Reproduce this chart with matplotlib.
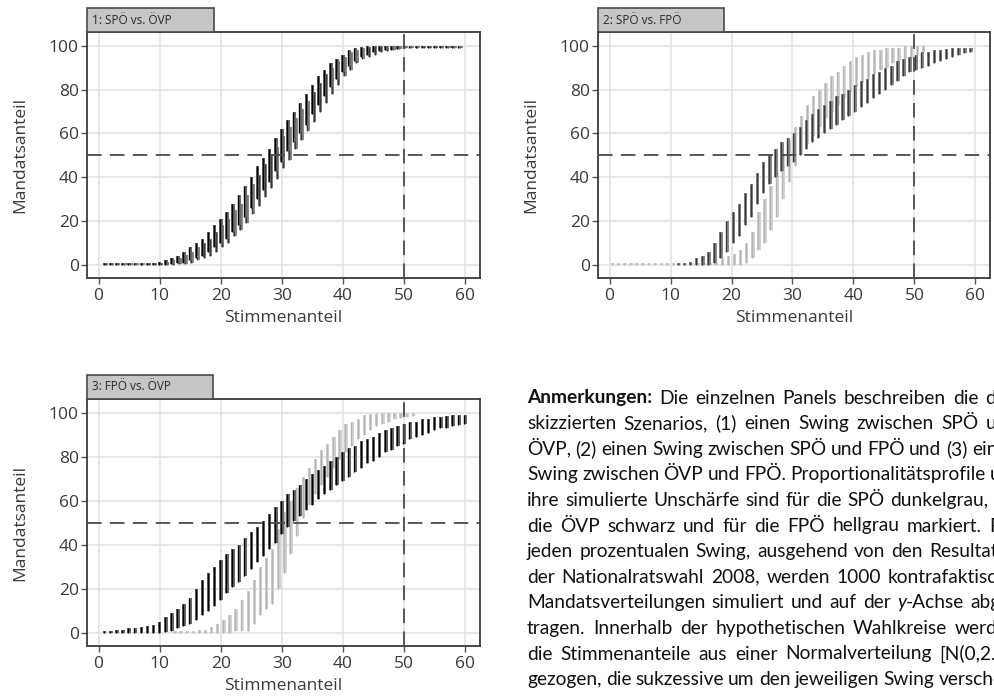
import matplotlib
matplotlib.use("Agg")
import matplotlib.pyplot as plt
import numpy as np
from matplotlib.patches import Rectangle

plt.rcParams['font.family'] = ['Open Sans', 'DejaVu Sans']
plt.rcParams['lines.scale_dashes'] = False

# ---- data ----
# panel 1: SPÖ vs. ÖVP
p1_oevp_x = list(range(1, 60))
p1_oevp_lo = [0, 0, 0, 0, 0, 0, 0, 0, 0, 0,
              0, 0.5, 1, 1, 2, 3, 4, 6, 8, 10,
              12, 15, 18, 22, 26, 30, 34, 38, 43, 47,
              52, 56, 60, 64, 69, 73, 77, 81, 85, 88,
              91, 93, 95, 96, 97, 97.5, 98, 98, 98.5, 99,
              99, 99, 99, 99, 99, 99, 99, 99, 99]
p1_oevp_hi = [0.3, 0.3, 0.4, 0.5, 0.6, 0.7, 0.8, 0.9, 1, 1.5,
              2, 3, 4, 6, 8, 10, 12, 15, 18, 21,
              24, 28, 32, 36, 40, 45, 49, 53, 58, 62,
              66, 70, 74, 78, 82, 86, 89, 92, 94, 96,
              98, 99, 99.5, 100, 100, 100, 100, 100, 100, 100,
              100, 100, 100, 100, 100, 100, 100, 100, 100]
p1_spoe_x = list(np.arange(1.3, 60, 1.0))
p1_spoe_lo = [0, 0, 0, 0, 0, 0, 0, 0, 0, 0,
              0, 0, 0.5, 0.5, 1, 2, 3, 4, 6, 8,
              10, 13, 16, 19, 23, 27, 31, 35, 39, 44,
              48, 53, 57, 61, 65, 70, 74, 78, 82, 86,
              89, 92, 94, 95, 96, 97, 97.5, 98, 98.5, 99,
              99, 99, 99, 99, 99, 99, 99, 99, 99]
p1_spoe_hi = [0.2, 0.2, 0.3, 0.3, 0.4, 0.5, 0.6, 0.7, 0.8, 1,
              1.5, 2, 3, 4.5, 6, 8, 10, 12, 15, 18,
              21, 25, 28, 32, 37, 41, 46, 50, 54, 59,
              63, 67, 71, 75, 79, 83, 87, 90, 93, 95,
              97, 98, 99, 99.5, 100, 100, 100, 100, 100, 100,
              100, 100, 100, 100, 100, 100, 100, 100, 100]

# panel 2: SPÖ vs. FPÖ
p2_spoe_x = list(np.arange(11.3, 60, 1.0))
p2_spoe_lo = [0, 0, 0, 0, 0, 0, 1, 3, 6,
              10, 13, 18, 22, 28, 33, 37, 40, 43, 45,
              47, 50, 53, 56, 58, 60, 62, 64, 66, 68,
              70, 72, 74, 76, 78, 80, 82, 84, 86, 88,
              89, 90, 91, 92, 93, 94, 95, 96, 96.5, 97]
p2_spoe_hi = [0.5, 1, 1.5, 3, 4, 6, 10, 15, 20,
              24, 28, 33, 37, 42, 47, 50, 53, 56, 58,
              60, 63, 66, 69, 71, 73, 75, 77, 78, 80,
              82, 84, 85, 87, 88, 90, 91, 93, 94, 95,
              96, 97, 97, 98, 98, 98.5, 99, 99, 99, 99]
p2_fpoe_x = list(np.arange(0.5, 52, 1.0))
p2_fpoe_lo = [0, 0, 0, 0, 0, 0, 0, 0, 0, 0,
              0, 0, 0, 0, 0, 0, 0, 0, 0, 0,
              0, 0, 1, 3, 7, 10, 16, 22, 30, 38,
              45, 50, 55, 59, 63, 67, 70, 73, 76, 79,
              81, 83, 85, 87, 89, 90, 92, 93, 94, 95,
              96, 97]
p2_fpoe_hi = [0.2, 0.2, 0.2, 0.2, 0.2, 0.2, 0.2, 0.2, 0.2, 0.2,
              0.2, 0.2, 0.2, 0.2, 0.2, 0.2, 0.2, 1, 3, 4,
              5, 7, 10, 15, 24, 30, 36, 42, 50, 57,
              63, 68, 73, 77, 80, 83, 86, 88, 91, 93,
              95, 96, 97, 98, 98, 99, 99, 99, 100, 100,
              100, 100]

# panel 3: FPÖ vs. ÖVP
p3_oevp_x = list(range(1, 61))
p3_oevp_lo = [0, 0, 0, 0, 0, 0, 0, 0, 0, 0,
              0.5, 1, 2, 3, 4, 6, 8, 10, 12, 15,
              18, 21, 23, 26, 29, 32, 35, 38, 41, 45,
              48, 51, 53, 56, 58, 61, 63, 65, 67, 69,
              71, 73, 75, 77, 78, 80, 82, 83, 85, 86,
              88, 89, 90, 91, 92, 93, 93, 94, 94.5, 95]
p3_oevp_hi = [1, 1, 1.5, 1.5, 2, 2, 2.5, 3, 3.5, 5,
              7, 9, 11, 13, 16, 20, 24, 27, 30, 33,
              36, 38, 40, 43, 46, 48, 51, 54, 57, 60,
              63, 65, 67, 70, 72, 74, 76, 78, 80, 82,
              84, 85, 87, 88, 89, 91, 92, 93, 94, 95,
              96, 96, 97, 97, 98, 98, 98.5, 99, 99, 99]
p3_fpoe_x = list(np.arange(12.5, 52, 1.0))
p3_fpoe_lo = [0, 0, 0, 0, 0, 0, 0, 0, 0, 0,
              1, 1, 1, 4, 8, 11, 13, 20, 27, 36,
              44, 52, 58, 63, 67, 71, 75, 79, 82, 85,
              88, 90, 92, 94, 95, 96, 97, 97.5, 98, 98.5]
p3_fpoe_hi = [0.5, 0.6, 0.8, 1, 1.2, 1.5, 2.5, 4, 6, 8,
              11, 15, 19, 24, 30, 34, 38, 47, 55, 60,
              66, 71, 75, 79, 83, 86, 89, 92, 95, 96,
              97, 99, 99.5, 100, 100, 100, 100, 100, 100, 100]

panel_titles = ["1: SPÖ vs. ÖVP", "2: SPÖ vs. FPÖ", "3: FPÖ vs. ÖVP"]

# the note is justified and runs past the right edge, as in the original
notes = [
    "Anmerkungen: Die einzelnen Panels beschreiben die drei",
    "skizzierten Szenarios, (1) einen Swing zwischen SPÖ und",
    "ÖVP, (2) einen Swing zwischen SPÖ und FPÖ und (3) einen",
    "Swing zwischen ÖVP und FPÖ. Proportionalitätsprofile und",
    "ihre simulierte Unschärfe sind für die SPÖ dunkelgrau, für",
    "die ÖVP schwarz und für die FPÖ hellgrau markiert. Für",
    "jeden prozentualen Swing, ausgehend von den Resultaten",
    "der Nationalratswahl 2008, werden 1000 kontrafaktische",
    "Mandatsverteilungen simuliert und auf der y-Achse abge-",
    "tragen. Innerhalb der hypothetischen Wahlkreise werden",
    "die Stimmenanteile aus einer Normalverteilung [N(0,2.5)]",
    "gezogen, die sukzessive um den jeweiligen Swing verschoben",
]

# colours per party
SPOE = ('#8a8a8a', '#3a3a3a')
OEVP = ('#6a6a6a', '#000000')
FPOE = ('#d2d2d2', '#b4b4b4')

W, H = 994, 696
fig = plt.figure(figsize=(W / 100, H / 100), dpi=100)


def px_axes(l, t, r, b):
    return fig.add_axes([l / W, 1 - b / H, (r - l) / W, (b - t) / H])


def ranges(ax, x, lo, hi, colors, w=0.55):
    x = np.asarray(x, float)
    lo = np.asarray(lo, float)
    hi = np.asarray(hi, float)
    h = np.maximum(hi - lo, 0.8)
    ax.bar(x, h, bottom=lo, width=w, color=colors[0], linewidth=0, zorder=3)
    ax.vlines(x - w * 0.25, lo, lo + h, colors=colors[1], linewidth=1.0, zorder=3)


def setup(ax, title, strip_px):
    ax.set_xlim(-1.9, 62.4)
    ax.set_ylim(-6, 106.3)
    ax.set_xticks(range(0, 61, 10))
    ax.set_yticks(range(0, 101, 20))
    ax.grid(True, color='#e3e3e3', lw=1.2)
    ax.set_axisbelow(True)
    for s in ax.spines.values():
        s.set_color('#3a3a3a')
        s.set_linewidth(1.3)
    ax.tick_params(direction='out', length=4, width=1, color='#555555',
                   labelsize=12.5, labelcolor='#3a3a3a')
    ax.tick_params(axis='y', pad=2)
    ax.tick_params(axis='x', pad=3)
    ax.axhline(50, color='#4a4a4a', lw=1.3, dashes=(10.5, 6), zorder=4)
    ax.axvline(50, color='#4a4a4a', lw=1.3, dashes=(10.5, 6), zorder=4)
    ax.set_xlabel('Stimmenanteil', fontsize=12.5, color='#3a3a3a')
    ax.set_ylabel('Mandatsanteil', fontsize=12.5, color='#3a3a3a')
    ax.xaxis.set_label_coords(0.5, -0.13)
    ax.yaxis.set_label_coords(-0.15, 0.5)
    bw = ax.get_position().width * W
    bh = ax.get_position().height * H
    ax.add_patch(Rectangle((0, 1), strip_px / bw, 24 / bh, transform=ax.transAxes,
                           facecolor='#c6c6c6', edgecolor='#4a4a4a', lw=1.2,
                           clip_on=False, zorder=5))
    ax.text(5 / bw, 1 + 12 / bh, title, transform=ax.transAxes, fontsize=8.5,
            color='#2a2a2a', va='center', ha='left', zorder=6)


ax1 = px_axes(87, 32, 480, 278)
ranges(ax1, p1_spoe_x, p1_spoe_lo, p1_spoe_hi, SPOE)
ranges(ax1, p1_oevp_x, p1_oevp_lo, p1_oevp_hi, OEVP)
setup(ax1, panel_titles[0], 127)

ax2 = px_axes(598, 32, 990, 278)
ranges(ax2, p2_fpoe_x, p2_fpoe_lo, p2_fpoe_hi, FPOE)
ranges(ax2, p2_spoe_x, p2_spoe_lo, p2_spoe_hi, SPOE)
setup(ax2, panel_titles[1], 126)

ax3 = px_axes(87, 399, 480, 646)
ranges(ax3, p3_fpoe_x, p3_fpoe_lo, p3_fpoe_hi, FPOE)
ranges(ax3, p3_oevp_x, p3_oevp_lo, p3_oevp_hi, OEVP)
setup(ax3, panel_titles[2], 126)

# ---- justified note text ----
r = fig.canvas.get_renderer()
probe = fig.text(0, 0, "ÖVP, (2) einen Swing zwischen SPÖ und FPÖ und (3) ein",
                 fontsize=12, family='Lato')
fs = 12 * 472 / probe.get_window_extent(renderer=r).width
probe.remove()

x0, col_w, y0, lead = 527, 491, 403.5, 25.6


def pieces(word):
    if word == 'Anmerkungen:':
        return [(word, 'bold', 'normal')]
    if word == 'y-Achse':
        return [('y', 'normal', 'italic'), ('-Achse', 'normal', 'normal')]
    return [(word, 'normal', 'normal')]


for i, line in enumerate(notes):
    yb = 1 - (y0 + i * lead) / H
    words = []
    for wd in line.split(' '):
        parts = []
        for s, wt, st in pieces(wd):
            t = fig.text(0, yb, s, fontsize=fs, family='Lato', fontweight=wt,
                         fontstyle=st, color='#111111', va='baseline', ha='left')
            parts.append((t, t.get_window_extent(renderer=r).width))
        words.append(parts)
    total = sum(w for parts in words for _, w in parts)
    gap = (col_w - total) / (len(words) - 1)
    gap = max(gap, fs * 100 / 72 * 0.22)
    xp = x0
    for parts in words:
        for t, w in parts:
            t.set_x(xp / W)
            xp += w
        xp += gap

fig.savefig('out.png', dpi=100)
